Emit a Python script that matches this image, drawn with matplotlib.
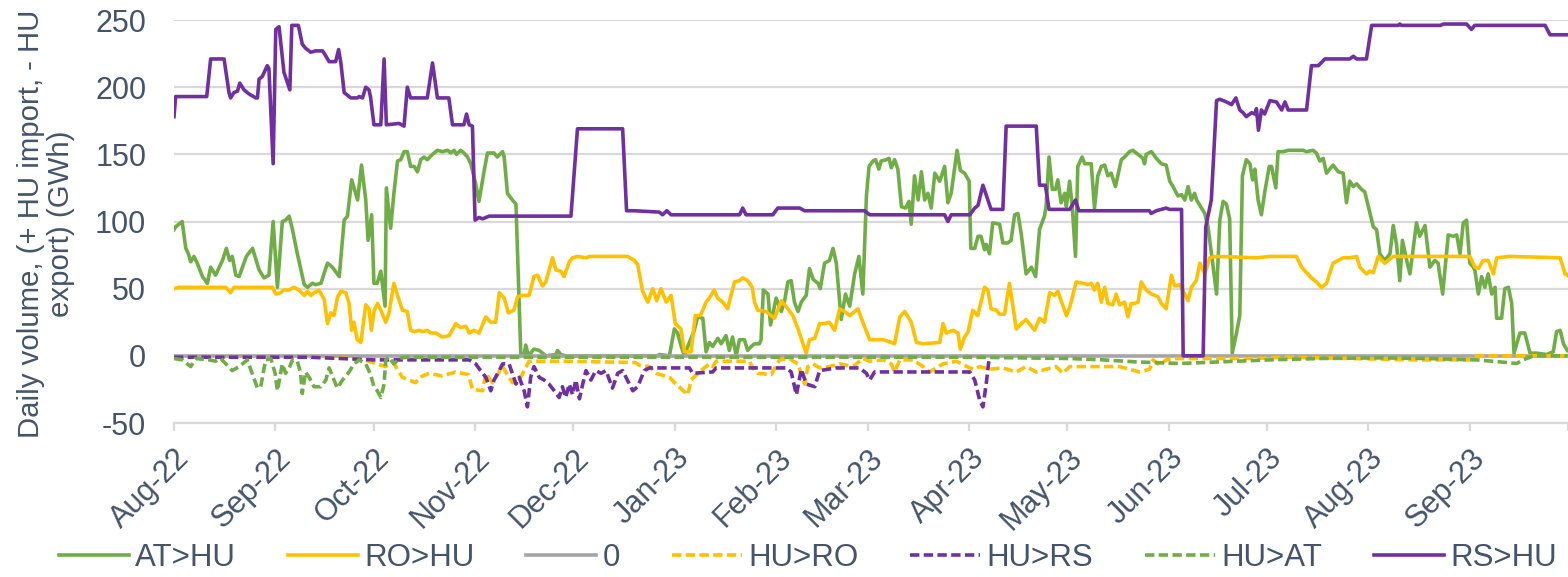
import numpy as np
import pandas as pd
import matplotlib
matplotlib.use('Agg')
import matplotlib.pyplot as plt
from matplotlib.transforms import ScaledTranslation

START = pd.Timestamp('2022-08-01')

# Series as (day offset from 1 Aug 2022, GWh) vertices
at_hu = [(0,94),(0.5,96),(2.5,100),(3.6,80),(4.4,76),(5.1,70),(6.1,74),(7.1,69),(8.7,59),(10.2,54),(11.2,66),(12.7,60),
         (14.8,71),(16,80),(17,71),(17.8,74),(18.9,60),(19.9,59),(22.1,74),(24,80),(26,64),(27.5,58),(29,60),(30.3,100),
         (31.6,51),(33.1,100),(34.1,101),(35.2,104),(36.2,94),(37.7,76),(39.8,53),(40.8,51),(42.3,54),(43.3,53),(44.9,54),
         (46.9,69),(48.4,66),(50.5,59),(52,101),(53,104),(54.3,131),(56.1,116),(57.3,142),(58.6,116),(59.3,86),(60.4,105),
         (61.1,54),(62.1,54),(63.2,63),(63.9,49),(64.5,37),(64.9,125),(66.2,95),(67.2,121),(68.3,145),(69.3,146),(70.3,152),
         (71.3,152),(72.3,141),(73.4,141),(74.4,137),(75.4,146),(76.4,148),(77.4,146),(79,150),(80.5,153),(82,152),(83.6,153),
         (84.6,151),(85.6,153),(86.3,150),(87.6,153),(88.6,151),(89.7,148),(90.7,143),(92.2,128),(93.2,115),(94.8,138),
         (95.8,151),(97.8,151),(98.8,148),(100.4,152),(100.9,148),(101.9,121),(103.4,116),(104.5,113),(106,0),(107,1),
         (107.5,8),(108.3,0),(110,5),(111.6,4),(113.6,0),(116.7,1),(117.2,4),(118.2,1),(119.7,0),(147.8,0),(148.3,1),
         (151.4,0),(152.9,20),(153.9,17),(155,7),(156,0),(157,7),(159,19),(160,29),(161.6,28),(162.6,3),(163.6,10),(164.6,7),
         (166.2,13),(167.2,9),(168.7,15),(169.7,4),(170.7,14),(171.8,0),(172.8,12),(174.3,12),(175.3,4),(176.4,7),(177.4,9),
         (178.9,9),(179.4,12),(180.1,49),(181.5,46),(182.3,23),(184,43),(185.6,33),(186.6,41),(187.6,55),(188.6,56),
         (189.6,40),(190.7,33),(191.7,40),(193.2,45),(194.2,65),(195.3,57),(196.8,54),(197.5,50),(198.8,69),(200.3,71),
         (201.4,80),(202.4,69),(203.9,27),(205.2,46),(206.5,37),(208,61),(209.3,74),(210.5,46),(211.6,119),(212.4,141),
         (213.6,145),(214.4,146),(215.4,139),(216.1,145),(217.7,146),(218.5,147),(219.2,140),(220.2,146),(221.2,139),
         (222.3,111),(223.6,110),(224.6,115),(225.3,98),(226.3,134),(227.4,116),(228.4,137),(229.4,116),(230.4,121),
         (231.4,110),(232.5,136),(234,130),(235.5,141),(236.5,114),(237.5,121),(239.3,153),(240.3,138),(241.6,136),
         (243,130),(243.5,80),(244.7,80),(245.7,89),(246.6,89),(247.7,79),(248.2,83),(249.2,76),(250.2,99),(252.3,98),
         (253.3,84),(254.8,84),(255.8,86),(256.9,105),(257.9,106),(258.9,91),(260.4,61),(262,66),(263.3,59),(264.5,94),
         (266,104),(266.5,111),(267.4,148),(268.4,124),(269.4,124),(270.1,131),(271.1,114),(272.2,121),(272.7,111),
         (273.7,130),(274.5,111),(275.5,74),(276.2,141),(277.5,148),(278.3,143),(280.3,143),(281.3,110),(282.3,134),
         (283.4,141),(284.4,142),(285.4,134),(286.4,136),(287.7,126),(289.5,146),(290.5,148),(292,152),(293,153),
         (294.6,150),(296.1,147),(296.6,143),(297.1,150),(298.7,152),(300.2,147),(301.7,143),(303.2,142),(304.3,130),
         (305.3,126),(306.8,119),(307.9,120),(308.9,116),(309.9,126),(310.9,116),(311.9,121),(312.5,116),(314,110),
         (315,106),(316,96),(318.6,46),(319.6,101),(320.6,115),(321.6,113),(322.6,102),(323.4,2),(324.7,17),(325.7,30),
         (326.5,134),(327.7,146),(328.8,143),(329.6,131),(330.3,139),(331.3,116),(332.3,105),(333.4,123),(334.7,141),
         (335.4,141),(336.7,125),(337.4,152),(339,152),(340.5,153),(345.1,153),(346.1,152),(348.1,153),(349.1,151),
         (350.2,145),(351.2,147),(352.2,136),(354.2,142),(355.8,137),(357.3,136),(358.3,114),(359.3,130),(360.4,126),
         (361.4,128),(362.9,124),(363.9,122),(366.5,96),(367.5,94),(368.5,76),(370,71),(371.6,76),(372.6,97),(373.6,83),
         (374.6,56),(375.4,86),(376.7,71),(377.7,61),(379.7,99),(380.7,89),(382.3,97),(383.8,66),(385.3,71),(386.3,69),
         (387.7,46),(389.4,90),(390.9,89),(392,90),(393,76),(394,99),(395,101),(396,69),(397.1,66),(397.6,63),(398.6,46),
         (399.6,59),(400.6,51),(401.6,61),(402.7,46),(403.7,51),(404.2,28),(405.7,28),(406.7,50),(407.8,51),(408.8,39),
         (409.5,2),(411.3,17),(412.8,17),(414.4,2),(416.4,2),(419.5,1),(421.5,3),(422.5,18),(423.6,19),(424.6,9),(425.8,4)]

ro_hu = [(0,50),(1.5,51),(4.6,51),(15.8,51),(17.3,47),(18.3,51),(30.1,51),(31.1,46),(32.6,47),(33.6,49),(35.2,49),
         (36.7,51),(38.2,49),(39.8,45),(40.8,48),(41.8,45),(42.8,47),(44.3,49),(45.9,42),(46.9,24),(47.9,32),(48.9,30),
         (50,44),(51,48),(52.5,47),(53.5,39),(54.3,19),(55,25),(56,12),(57.1,10),(58.6,38),(59.6,35),(60.3,19),(61.2,34),
         (62.2,39),(63.2,34),(64.7,25),(65.7,32),(67.2,54),(68.3,45),(69.8,34),(71.3,33),(72.3,19),(73.4,18),(74.9,19),
         (75.9,18),(77.4,19),(78.5,17),(80,17),(82,14),(84.1,15),(86.1,24),(87.6,21),(89.2,22),(90.2,17),(91.7,19),
         (93.2,17),(95.3,29),(96.8,25),(98.3,25),(99.4,47),(100.9,43),(102.2,32),(103.9,34),(105,44),(106.5,45),
         (108.5,45),(110,59),(111.1,60),(112.6,52),(113.6,55),(115.7,73),(116.7,64),(118.2,63),(119.2,59),(120.8,70),
         (121.8,73),(123.3,74),(125.9,73),(126.9,74),(138.6,74),(140.7,71),(141.7,68),(143.2,48),(144.8,40),(146.3,50),
         (147.5,41),(148.8,50),(150.4,40),(151.9,45),(153.2,24),(154.9,20),(156,3),(158,3),(159.3,30),(160.8,30),
         (161.6,34),(162.6,40),(163.6,43),(165.1,49),(166.1,43),(167.7,40),(169.2,35),(170.2,45),(171.3,55),(172.8,56),
         (173.8,58),(175.3,56),(176.7,51),(177.4,40),(178.4,34),(180.9,33),(183.5,28),(185.6,41),(187.6,35),(189.1,30),
         (190.7,20),(192.2,9),(193.2,2),(194.2,12),(195.8,13),(197.3,24),(198.8,24),(200.3,25),(201.9,19),(203.4,35),
         (204.9,33),(206.5,30),(209,35),(210.5,25),(212.6,12),(214.6,12),(216.7,12),(219.2,10),(220.2,9),(221.8,29),
         (223.3,33),(225.3,25),(226.9,10),(228.9,9),(234,10),(235,24),(236,17),(238.1,19),(239.6,17),(240.3,5),
         (241.6,14),(242.7,18),(244.1,34),(245.6,30),(247.7,51),(248.7,49),(249.7,35),(251.3,34),(252.3,31),(253.8,31),
         (255.3,54),(257.4,20),(258.9,24),(260.4,27),(262,22),(263,19),(264.5,28),(266,25),(267.6,47),(269.1,45),
         (270.1,48),(272.7,30),(273.7,36),(275.7,55),(277.8,54),(279.3,53),(280.3,54),(281.3,49),(282.3,54),(283.4,40),
         (284.4,51),(285.4,39),(286.9,38),(287.9,46),(289,38),(290.5,40),(291.5,29),(292.5,39),(293.6,39),(294.6,40),
         (295.6,55),(297.1,49),(298.7,46),(300.7,44),(301.7,39),(303.2,35),(304.8,60),(305.8,52),(307.4,53),(309.9,41),
         (310.9,51),(312.4,56),(313.5,69),(315,61),(316.5,73),(318.6,74),(330.8,73),(334.9,74),(343,74),(344.6,66),
         (346.1,62),(347.6,58),(349.1,55),(350.7,51),(352.2,54),(354.2,69),(355.8,71),(357.3,73),(359.3,73),(361.4,74),
         (362.4,66),(364.4,61),(365.4,63),(366.5,62),(368,74),(370,69),(372.6,74),(396,74),(397.6,66),(398.6,65),
         (400.1,71),(401.6,71),(403.2,61),(404.2,73),(408.3,74),(423.6,73),(425.1,61),(425.8,60)]

zero_line = [(0,0),(425.8,0)]

hu_ro = [(0,-1),(30,-1),(45,-1),(55,-2),(58,-3),(59.6,-4),(62,-6),(64.7,-8),(67,-5),(69.8,-16),(73.9,-20),(75,-16),
         (78,-13),(82,-15),(86,-12),(90,-14),(91.2,-25),(94.3,-26),(95.3,-13),(97.3,-20),(100.4,-8),(103.4,-20),
         (105.5,-18),(108.5,-4),(120,-4),(141,-5),(142.2,-7),(145.3,-8),(147.3,-13),(151.4,-16),(153.4,-21),(157,-29),
         (158,-18),(161,-11),(163.6,-6),(164.6,-8),(165.7,-4),(175.8,-4),(176.9,-9),(178.4,-13),(182.5,-14),(185,-3),
         (188,-2),(190.7,-6),(192.7,-21),(193.7,-8),(195.3,-6),(197.3,-9),(200.3,-8),(203.4,-6),(207.5,-8),(210.5,-2),
         (212.6,-4),(216.7,-3),(219.2,-6),(220.2,-12),(221.8,-3),(225.8,-3),(228.9,-8),(230.9,-12),(235,-6),(239.1,-4),
         (243.2,-9),(244.7,-10),(246.2,-8),(249.2,-10),(253.3,-9),(257.4,-12),(260.4,-8),(263.5,-12),(266.5,-10),
         (269.6,-8),(271.6,-13),(273.7,-8),(288.9,-8),(292,-10),(295.1,-12),(298.1,-10),(299.2,-3),(301.2,-7),
         (303.2,-3),(306.3,-2),(330,-2),(340,-1),(360,-2),(380,-3),(396,-3),(397,0),(425.8,0)]

hu_rs = [(0,-1),(41,-1),(51,-2),(61,-3),(90.2,-3),(92.2,-6),(93.7,-11),(95.3,-16),(96.8,-26),(97.8,-18),(99.4,-11),
         (100.4,-6),(102.4,-6),(104.5,-21),(105.5,-16),(107,-26),(108,-38),(109,-16),(110,-8),(111.6,-16),(113.1,-18),
         (114.6,-21),(116.2,-26),(117.7,-31),(118.7,-23),(119.7,-31),(120.8,-21),(121.8,-29),(122.8,-18),(123.9,-32),
         (124.9,-21),(125.9,-11),(127.4,-18),(128.9,-11),(130.5,-13),(132,-11),(134,-24),(135.6,-13),(137.1,-11),
         (140.2,-26),(141.7,-23),(143.7,-11),(145.3,-9),(157.5,-9),(158.5,-13),(164.6,-12),(165.7,-9),(187.1,-9),
         (188.6,-12),(190.2,-29),(191.7,-10),(193.2,-21),(195.8,-23),(197.3,-11),(202.4,-9),(209.5,-9),(211.6,-13),
         (212.6,-18),(214.1,-12),(243.2,-12),(244.7,-18),(246.2,-33),(247.2,-38),(248.2,-21),(249,-4)]

hu_at = [(0,-2),(2.5,-3),(5.1,-8),(6.6,-2),(10.7,-3),(12.7,-4),(14.3,-2),(17.8,-11),(19.9,-8),(22.4,-3),(25.5,-24),
         (26.5,-23),(28,-3),(29.6,-2),(30.9,-13),(31.6,-26),(33.1,-6),(34.1,-13),(35.2,-9),(36.2,-3),(37.7,-4),(38.7,-13),
         (39.2,-28),(40.2,-12),(41.3,-16),(42.8,-23),(44.9,-23),(46.4,-18),(47.4,-9),(49.9,-24),(51.5,-18),(53.5,-12),
         (55,-6),(56.6,-3),(58.6,-6),(60.1,-14),(61.1,-23),(62.1,-26),(63.2,-31),(64.2,-21),(64.7,-3),(65.7,-1),
         (67.2,-6),(68.8,-2),(70.8,-1),(120,-1),(180,-1),(243,-1),(273.7,-2),(283.9,-3),(294,-4.5),(307.3,-5.7),
         (319.6,-4.5),(334.9,-3),(350.2,-2),(368.5,-1.5),(382.8,-2),(398,-3),(405.2,-4.5),(410.3,-5.7),(412.3,-3),
         (415.4,0),(425.8,0)]

rs_hu = [(0,178),(0.5,193),(10,193),(11.2,221),(15.3,221),(16.8,196),(17.3,192),(18.3,196),(19.4,197),(20.1,203),
         (21.4,198),(22.9,195),(25,192),(25.5,192),(26,206),(27,208),(28.5,216),(29,214),(30.3,143),(31.1,243),
         (32.1,245),(33.6,211),(35.4,198),(36,246),(38,246),(39.2,232),(40.2,229),(41.8,226),(43.3,227),(45.4,227),
         (46.2,224),(47.4,219),(49.4,219),(50.3,228),(51,218),(52,196),(54,192),(56,192),(56.6,193),(57.6,192),
         (58.6,200),(59.6,198),(60.1,192),(61.1,172),(63.2,172),(64.2,221),(64.9,172),(68.8,173),(70.3,171),(71.3,200),
         (72.3,192),(77.4,192),(79,218),(80.5,192),(84,192),(85.1,172),(88.6,172),(89.4,180),(90.2,172),(91.2,171),
         (92,101),(93.2,103),(94.3,102),(96.3,104),(121.3,104),(123.3,169),(137.1,169),(138.3,108),(140.7,108),
         (148.3,107),(149.3,105),(150.6,108),(151.9,105),(172.8,105),(173.8,110),(174.8,105),(183,105),(184.5,110),
         (191.2,110),(192.7,108),(211,108),(212.6,105),(235.5,105),(236.5,100),(237.5,105),(243.2,105),(244.7,110),
         (245.7,112),(247.2,127),(249.7,109),(253.3,109),(254.3,171),(263.5,171),(264.5,127),(266.3,127),(267.4,109),
         (273.7,109),(275.5,116),(276.5,108),(298.1,108),(298.6,106),(300.2,108),(303.2,110),(304.2,109),(307.9,109),
         (308.4,0),(314.5,0),(315.3,96),(317,116),(318.6,190),(319.6,191),(321.6,189),(323.2,187),(324.5,192),
         (325.7,183),(326.7,181),(327.7,178),(329.3,181),(330.3,180),(330.8,184),(331.4,168),(332.3,183),(333.3,180),
         (334.9,190),(336.9,189),(338.5,183),(339.5,189),(340.5,183),(346.1,183),(347.6,216),(349.7,216),(351.7,221),
         (359.3,221),(360.4,223),(361.4,221),(364.4,221),(366,246),(374.1,246),(374.6,247),(375.1,246),(387,246),
         (387.9,247),(395,247),(396.5,243),(397.5,246),(419,246),(420.5,239),(425.8,239)]

month_labels = ['Aug-22', 'Sep-22', 'Oct-22', 'Nov-22', 'Dec-22', 'Jan-23', 'Feb-23', 'Mar-23',
                'Apr-23', 'May-23', 'Jun-23', 'Jul-23', 'Aug-23', 'Sep-23', '']
y_ticks = [-50, 0, 50, 100, 150, 200, 250]

DASH = (0, (2.6, 1.2))
series = [
    ('AT>HU', at_hu, '#70AD47', '-'),
    ('RO>HU', ro_hu, '#FFC000', '-'),
    ('0', zero_line, '#A5A5A5', '-'),
    ('HU>RO', hu_ro, '#FFC000', DASH),
    ('HU>RS', hu_rs, '#7030A0', DASH),
    ('HU>AT', hu_at, '#70AD47', DASH),
    ('RS>HU', rs_hu, '#7030A0', '-'),
]

TXT = '#44546A'
GRID = '#D9D9D9'
FS = 22
plt.rcParams['font.family'] = ['Liberation Sans', 'DejaVu Sans']

fig = plt.figure(figsize=(15.68, 5.77), dpi=100)
ax = fig.add_axes([174/1568, 1-423/577, (1568-174)/1568, (423-20)/577])

def to_dates(days):
    return START + pd.to_timedelta(np.asarray(days, dtype=float), unit='D')

for name, data, color, ls in series:
    d = np.array(data, dtype=float)
    ax.plot(to_dates(d[:, 0]), d[:, 1], color=color, lw=2.6, ls=ls, label=name,
            solid_joinstyle='round', dash_capstyle='butt')

ax.set_ylim(-50, 250)
ax.set_xlim(START, START + pd.Timedelta(days=426))
ax.set_yticks(y_ticks)
ax.set_yticklabels([str(v) for v in y_ticks])
ax.yaxis.grid(True, color=GRID, lw=1.6)
ax.set_axisbelow(True)

month_ticks = pd.date_range(START, periods=len(month_labels), freq='MS')
ax.set_xticks(month_ticks)
ax.set_xticklabels(month_labels, rotation=45, ha='right', va='top', rotation_mode='anchor')
offset = ScaledTranslation(5/100, 0, fig.dpi_scale_trans)
for lab in ax.get_xticklabels():
    lab.set_transform(lab.get_transform() + offset)

for s in ['top', 'right', 'left']:
    ax.spines[s].set_visible(False)
ax.spines['bottom'].set_color(GRID)
ax.spines['bottom'].set_linewidth(1.6)
ax.tick_params(axis='y', length=0, pad=20, labelsize=FS, labelcolor=TXT)
ax.tick_params(axis='x', length=5.5, width=1.6, color=GRID, direction='out', pad=9, labelsize=FS, labelcolor=TXT)

fig.text(46/1568, 1-224/577, 'Daily volume, (+ HU import, - HU\nexport) (GWh)', rotation=90,
         ha='center', va='center', multialignment='center', fontsize=21.2, color=TXT, linespacing=1.05)

leg = fig.legend(loc='center', bbox_to_anchor=(808/1568, 19/577), ncol=7, frameon=False, fontsize=22.5,
                 handlelength=2.24, handletextpad=0.2, columnspacing=1.66, borderpad=0, borderaxespad=0)
for t in leg.get_texts():
    t.set_color(TXT)

fig.savefig('out.png', dpi=100)
